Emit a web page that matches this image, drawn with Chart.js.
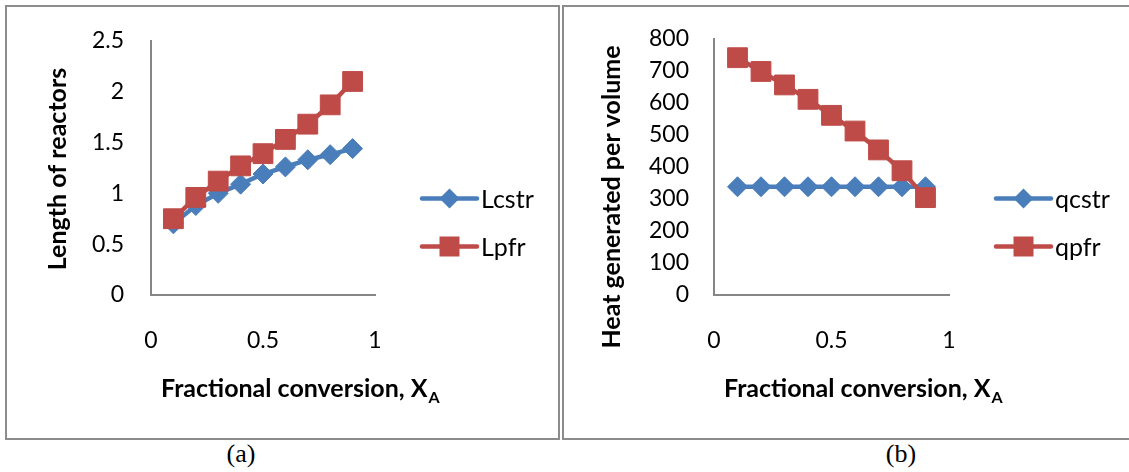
<!DOCTYPE html>
<html>
<head>
<meta charset="utf-8">
<script src="https://cdn.jsdelivr.net/npm/chart.js@4.4.1/dist/chart.umd.min.js"></script>
<style>
  body { margin: 0; background: #fff; width: 1129px; height: 472px; overflow: hidden; position: relative; }
  .panel { position: absolute; top: 5px; height: 435px; border: 2px solid #8c8c8c; box-sizing: border-box; }
  #pa { left: 5px; width: 555px; }
  #pb { left: 562px; width: 580px; }
  canvas { position: absolute; top: 8px; }
  #ca { left: 8px; }
  #cb { left: 565px; }
  .cap { position: absolute; top: 440px; width: 100px; text-align: center; font: 26px "Liberation Serif", serif; line-height: 28px; color: #000; }
</style>
</head>
<body>
<div class="panel" id="pa"></div>
<div class="panel" id="pb"></div>
<canvas id="ca" width="549" height="429"></canvas>
<canvas id="cb" width="564" height="429"></canvas>
<div class="cap" style="left:191px">(a)</div>
<div class="cap" style="left:851px">(b)</div>
<script>
// fractional conversion X_A
var conversion = [0.1, 0.2, 0.3, 0.4, 0.5, 0.6, 0.7, 0.8, 0.9];

// (a) length of reactors
var lcstr = [0.70, 0.88, 1.00, 1.09, 1.19, 1.26, 1.33, 1.38, 1.44];
var lpfr = [0.75, 0.96, 1.12, 1.27, 1.39, 1.53, 1.68, 1.87, 2.10];

// (b) heat generated per volume
var qcstr = [338, 338, 338, 338, 338, 338, 338, 338, 338];
var qpfr = [741, 698, 656, 611, 561, 512, 453, 388, 304];

var namesA = ['Lcstr', 'Lpfr'];
var namesB = ['qcstr', 'qpfr'];

var BLUE = '#4a7ebb';
var RED = '#be4b48';
var AXIS = '#868686';

Chart.defaults.font.family = 'Lato';

// axis titles and the line+marker legend, drawn like excel does it
var panelText = {
  id: 'panelText',
  afterDraw: function (chart, args, o) {
    var ctx = chart.ctx;
    var area = chart.chartArea;
    ctx.save();
    ctx.fillStyle = '#000';
    ctx.textAlign = 'left';
    ctx.textBaseline = 'alphabetic';
    ctx.font = 'bold 25px Lato';
    var x = area.left + 10;
    ctx.fillText(o.xTitle, x, o.xTitleY);
    x += ctx.measureText(o.xTitle).width + 1;
    ctx.font = 'bold 16px Lato';
    ctx.fillText(o.xSub, x, o.xTitleY + 6);

    ctx.translate(o.yTitleX, o.yTitleY);
    ctx.rotate(-Math.PI / 2);
    ctx.font = 'bold 25px Lato';
    ctx.textAlign = 'center';
    ctx.fillText(o.yTitle, 0, 0);
    ctx.restore();

    // legend
    ctx.save();
    chart.data.datasets.forEach(function (ds, i) {
      var y = chart.height / 2 + (i - 0.5) * 48;
      var x0 = area.right + 47;
      ctx.strokeStyle = ds.borderColor;
      ctx.fillStyle = ds.borderColor;
      ctx.lineWidth = 4.5;
      ctx.lineCap = 'round';
      ctx.beginPath();
      ctx.moveTo(x0, y);
      ctx.lineTo(x0 + 55, y);
      ctx.stroke();
      var cx = x0 + 27.5;
      ctx.beginPath();
      if (ds.pointStyle === 'rectRot') {
        ctx.moveTo(cx - 10, y);
        ctx.lineTo(cx, y - 10);
        ctx.lineTo(cx + 10, y);
        ctx.lineTo(cx, y + 10);
        ctx.closePath();
      } else {
        ctx.rect(cx - 10, y - 10, 20, 20);
      }
      ctx.fill();
      ctx.fillStyle = '#000';
      ctx.font = '25px Lato';
      ctx.textBaseline = 'middle';
      ctx.fillText(ds.label, x0 + 59, y + 1);
    });
    ctx.restore();
  }
};

function series(name, ys, color, style, radius, order) {
  return {
    label: name,
    data: conversion.map(function (x, i) { return { x: x, y: ys[i] }; }),
    borderColor: color,
    backgroundColor: color,
    borderWidth: 4.5,
    pointStyle: style,
    pointRadius: radius,
    pointHoverRadius: radius,
    pointBorderWidth: 1,
    order: order
  };
}

function plain(v) { return v; }

function makeChart(id, datasets, yMax, yStep, yWidth, yPad, rightPad, text) {
  return new Chart(document.getElementById(id), {
    type: 'scatter',
    data: { datasets: datasets },
    options: {
      responsive: false,
      animation: false,
      showLine: true,
      layout: { padding: { left: 0, top: 28, right: rightPad, bottom: 0 } },
      plugins: {
        legend: { display: false },
        tooltip: { enabled: false },
        panelText: text
      },
      scales: {
        x: {
          type: 'linear',
          position: 'bottom',
          min: 0,
          max: 1,
          ticks: { stepSize: 0.5, color: '#000', font: { size: 23 }, padding: 24, callback: plain },
          grid: { display: false },
          border: { display: true, color: AXIS, width: 2 },
          afterFit: function (s) { s.height = 142; }
        },
        y: {
          type: 'linear',
          position: 'left',
          min: 0,
          max: yMax,
          ticks: { stepSize: yStep, color: '#000', font: { size: 23 }, padding: yPad, callback: plain },
          grid: { display: false },
          border: { display: true, color: AXIS, width: 2 },
          afterFit: function (s) { s.width = yWidth; }
        }
      }
    },
    plugins: [panelText]
  });
}

makeChart('ca', [
  series(namesA[0], lcstr, BLUE, 'rectRot', 10, 1),
  series(namesA[1], lpfr, RED, 'rect', 14, 0)
], 2.5, 0.5, 143, 19, 182, {
  xTitle: 'Fractional conversion, X', xSub: 'A', xTitleY: 389,
  yTitle: 'Length of reactors', yTitleX: 58, yTitleY: 161
});

makeChart('cb', [
  series(namesB[0], qcstr, BLUE, 'rectRot', 10, 1),
  series(namesB[1], qpfr, RED, 'rect', 14, 0)
], 800, 100, 149, 17, 180, {
  xTitle: 'Fractional conversion, X', xSub: 'A', xTitleY: 389,
  yTitle: 'Heat generated per volume', yTitleX: 55, yTitleY: 189
});
</script>
</body>
</html>
